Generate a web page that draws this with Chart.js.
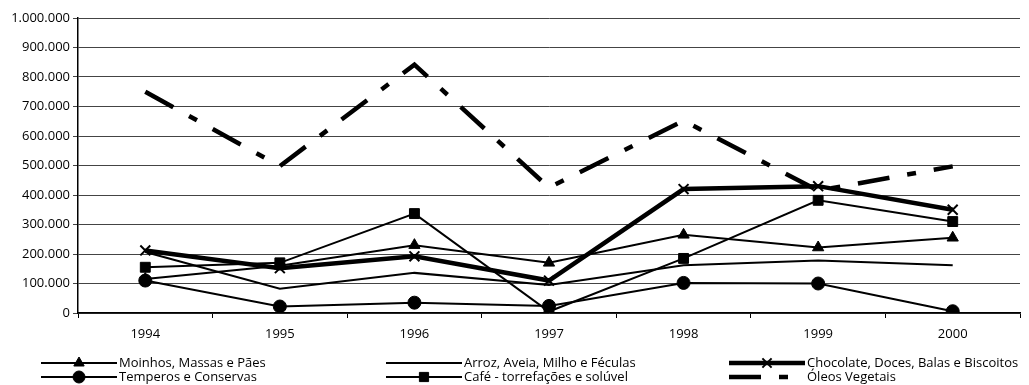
<!DOCTYPE html>
<html>
<head>
<meta charset="utf-8">
<script src="https://cdn.jsdelivr.net/npm/chart.js@4/dist/chart.umd.min.js"></script>
<style>
  body { margin: 0; background: #fff; }
  #wrap { width: 1029px; height: 385px; }
</style>
</head>
<body>
<div id="wrap"><canvas id="chart" width="1029" height="385"></canvas></div>
<script>
// data
var years = ["1994", "1995", "1996", "1997", "1998", "1999", "2000"];
var moinhos = [115000, 160000, 230000, 170000, 265000, 222000, 255000];
var arroz = [207000, 82000, 136000, 95000, 162000, 178000, 162000];
var chocolate = [212000, 152000, 192000, 110000, 420000, 430000, 350000];
var temperos = [110000, 22000, 35000, 24000, 102000, 100000, 6000];
var cafe = [155000, 170000, 337000, 5000, 185000, 382000, 310000];
var oleos = [750000, 498000, 842000, 425000, 652000, 415000, 497000];
var yTicks = [0, 100000, 200000, 300000, 400000, 500000, 600000, 700000, 800000, 900000, 1000000];

var FONT = "'Open Sans', sans-serif";

function fmt(v) {
    return String(v).replace(/\B(?=(\d{3})+(?!\d))/g, ".");
}

function line(label, data, style, radius, width, dash) {
    return {
        label: label,
        data: data,
        borderColor: "#000",
        backgroundColor: "#000",
        borderWidth: width,
        borderDash: dash || [],
        pointStyle: style,
        pointRadius: radius,
        pointBorderWidth: style === "crossRot" ? 2 : 1,
        pointBackgroundColor: "#000",
        pointBorderColor: "#000",
        tension: 0,
        fill: false,
    };
}

// legend in three fixed columns, drawn from the dataset styles
var legendCols = [
    { x: 41, idx: [0, 3] },
    { x: 386, idx: [1, 4] },
    { x: 729, idx: [2, 5] },
];
var legendRows = [363, 377];

var fixedLegend = {
    id: "fixedLegend",
    afterDraw: function (chart) {
        var ctx = chart.ctx;
        ctx.save();
        ctx.font = "13px " + FONT;
        ctx.textBaseline = "middle";
        ctx.fillStyle = "#000";
        legendCols.forEach(function (col) {
            col.idx.forEach(function (di, r) {
                var ds = chart.data.datasets[di];
                var y = legendRows[r];
                ctx.strokeStyle = "#000";
                ctx.lineWidth = ds.borderWidth;
                ctx.setLineDash(ds.borderDash);
                ctx.beginPath();
                ctx.moveTo(col.x, y);
                ctx.lineTo(col.x + 76, y);
                ctx.stroke();
                ctx.setLineDash([]);
                if (ds.pointRadius > 0) {
                    ctx.fillStyle = "#000";
                    ctx.lineWidth = ds.pointBorderWidth;
                    Chart.helpers.drawPoint(ctx, {
                        pointStyle: ds.pointStyle,
                        radius: ds.pointRadius - 0.5,
                        borderWidth: ds.pointBorderWidth,
                        rotation: 0,
                    }, col.x + 38, y);
                }
                ctx.fillStyle = "#000";
                ctx.fillText(ds.label, col.x + 78, y);
            });
        });
        ctx.restore();
    },
};

var chrt = document.getElementById("chart").getContext("2d");
var chartId = new Chart(chrt, {
    type: "line",
    data: {
        labels: years,
        datasets: [
            line("Moinhos, Massas e Pães", moinhos, "triangle", 6.5, 2),
            line("Arroz, Aveia, Milho e Féculas", arroz, "circle", 0, 2),
            line("Chocolate, Doces, Balas e Biscoitos", chocolate, "crossRot", 7, 4.5),
            line("Temperos e Conservas", temperos, "circle", 6.5, 2),
            line("Café - torrefações e solúvel", cafe, "rect", 7, 2),
            line("Óleos Vegetais", oleos, "circle", 0, 4.5, [32, 18, 9, 18]),
        ],
    },
    options: {
        responsive: false,
        animation: false,
        layout: { padding: { top: 18, right: 1, left: 0, bottom: 0 } },
        plugins: {
            legend: { display: false },
            tooltip: { enabled: false },
        },
        scales: {
            x: {
                offset: true,
                grid: {
                    offset: true,
                    drawOnChartArea: false,
                    drawTicks: true,
                    tickLength: 5,
                    color: "#000",
                },
                border: { color: "#000", width: 1.5 },
                ticks: {
                    color: "#000",
                    font: { family: FONT, size: 13 },
                    padding: 8,
                    maxRotation: 0,
                },
                afterFit: function (scale) { scale.height = 72; },
            },
            y: {
                min: 0,
                max: 1000000,
                afterBuildTicks: function (scale) {
                    scale.ticks = yTicks.map(function (v) { return { value: v }; });
                },
                grid: {
                    color: "#444",
                    lineWidth: 1,
                    drawTicks: true,
                    tickLength: 5,
                },
                border: { color: "#000", width: 1.5 },
                ticks: {
                    color: "#000",
                    font: { family: FONT, size: 13 },
                    padding: 3,
                    callback: function (v) { return fmt(v); },
                },
                afterFit: function (scale) { scale.width = 78; },
            },
        },
    },
    plugins: [fixedLegend],
});
</script>
</body>
</html>
